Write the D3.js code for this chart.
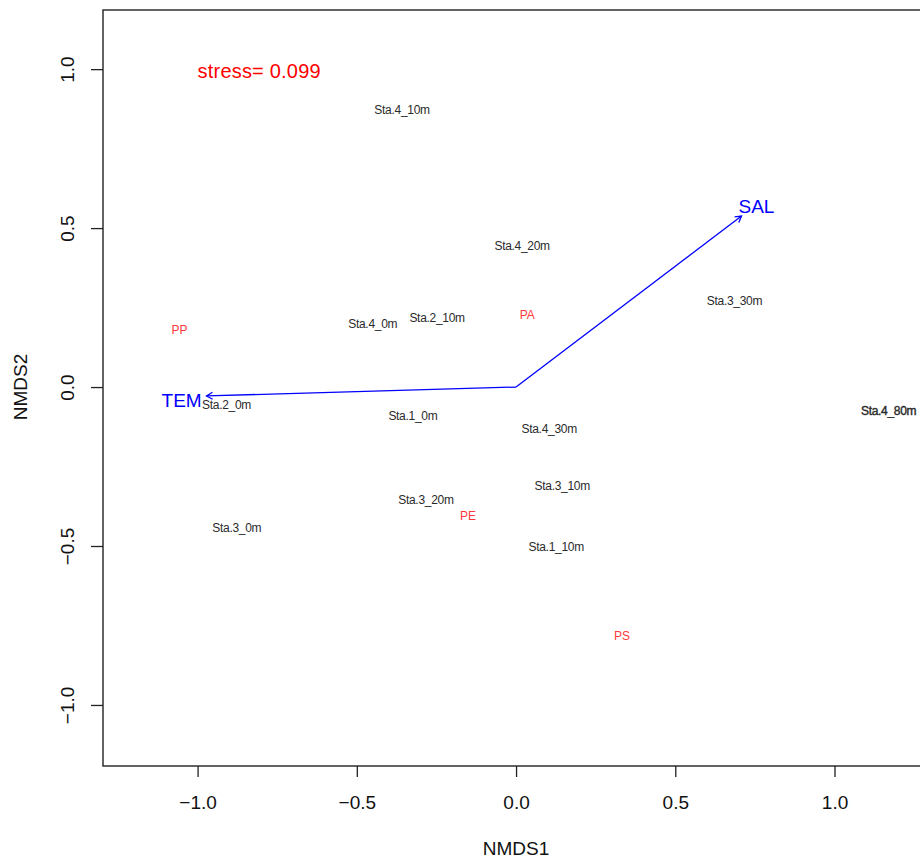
<!DOCTYPE html>
<html>
<head>
<meta charset="utf-8">
<script src="https://cdn.jsdelivr.net/npm/d3@7"></script>
<style>
  body { margin: 0; background: #fff; }
  svg { display: block; font-family: 'Liberation Sans', Arial, sans-serif; }
</style>
</head>
<body>
<div id="chart"></div>
<script>
// site scores (NMDS1, NMDS2)
var siteNames = ['Sta.4_10m', 'Sta.4_20m', 'Sta.3_30m', 'Sta.4_0m', 'Sta.2_10m', 'Sta.2_0m',
    'Sta.1_0m', 'Sta.4_30m', 'Sta.4_80m', 'Sta.3_10m', 'Sta.3_20m', 'Sta.3_0m', 'Sta.1_10m'];
var siteX = [-0.358, 0.019, 0.686, -0.450, -0.248, -0.909, -0.324, 0.104, 1.170, 0.145, -0.283, -0.877, 0.126];
var siteY = [0.871, 0.443, 0.270, 0.198, 0.217, -0.057, -0.091, -0.132, -0.075, -0.311, -0.355, -0.443, -0.503];

// species scores
var speciesNames = ['PP', 'PA', 'PE', 'PS'];
var speciesX = [-1.057, 0.035, -0.151, 0.333];
var speciesY = [0.179, 0.226, -0.406, -0.783];

// environmental vectors (arrow tips) and their label spots
var envNames = ['TEM', 'SAL'];
var envX = [-0.972, 0.708];
var envY = [-0.028, 0.538];
var envLabelX = [-1.05, 0.755];
var envLabelY = [-0.041, 0.569];

var ticks = [-1.0, -0.5, 0.0, 0.5, 1.0];
var stress = 0.099;

var width = 920,
    height = 860;

var plot = { left: 103, top: 10, bottom: 766 };

var x = d3.scaleLinear()
    .domain([-1.297, 1.35])
    .range([plot.left, 516 + 1.35 * 318.5]);

var y = d3.scaleLinear()
    .domain([-1.192, 1.186])
    .range([plot.bottom, plot.top]);

var svg = d3.select('#chart').append('svg')
    .attr('width', width)
    .attr('height', height);

// axes
var xAxis = svg.append('g')
    .attr('transform', 'translate(0,' + plot.bottom + ')')
    .call(d3.axisBottom(x).tickValues(ticks).tickSize(11).tickFormat(d3.format('.1f')));
xAxis.select('.domain').remove();
xAxis.selectAll('line').attr('stroke', '#222').attr('stroke-width', 1.3);
xAxis.selectAll('text')
    .attr('y', 43).attr('dy', null)
    .attr('fill', '#111')
    .style('font-size', '19px');

var yAxis = svg.append('g')
    .attr('transform', 'translate(' + plot.left + ',0)')
    .call(d3.axisLeft(y).tickValues(ticks).tickSize(12).tickFormat(d3.format('.1f')));
yAxis.select('.domain').remove();
yAxis.selectAll('line').attr('stroke', '#222').attr('stroke-width', 1.3);
yAxis.selectAll('text')
    .attr('x', null).attr('dy', null)
    .attr('text-anchor', 'middle')
    .attr('transform', 'translate(-29,0) rotate(-90)')
    .attr('fill', '#111')
    .style('font-size', '19px');

// frame
svg.append('rect')
    .attr('x', plot.left)
    .attr('y', plot.top)
    .attr('width', x.range()[1] - plot.left)
    .attr('height', plot.bottom - plot.top)
    .attr('fill', 'none')
    .attr('stroke', '#222')
    .attr('stroke-width', 1.4);

// axis titles
svg.append('text')
    .attr('x', x(0))
    .attr('y', 855)
    .attr('text-anchor', 'middle')
    .attr('fill', '#111')
    .style('font-size', '19px')
    .text('NMDS1');

svg.append('text')
    .attr('transform', 'translate(27,' + y(0) + ') rotate(-90)')
    .attr('text-anchor', 'middle')
    .attr('fill', '#111')
    .style('font-size', '19px')
    .text('NMDS2');

// stress
svg.append('text')
    .attr('x', x(-1.0))
    .attr('y', y(1.0))
    .attr('dy', '0.45em')
    .attr('fill', '#ff0000')
    .style('font-size', '20px')
    .style('letter-spacing', '0.2px')
    .text('stress= ' + stress.toFixed(3));

// site labels
svg.append('g').selectAll('text')
    .data(siteNames)
    .enter().append('text')
    .attr('x', function (d, i) { return x(siteX[i]); })
    .attr('y', function (d, i) { return y(siteY[i]); })
    .attr('dy', '0.35em')
    .attr('text-anchor', 'middle')
    .attr('fill', '#2a2a2a')
    .attr('stroke', function (d) { return d == 'Sta.4_80m' ? '#2a2a2a' : 'none'; })
    .attr('stroke-width', 0.4)
    .style('font-size', '12px')
    .style('letter-spacing', '-0.3px')
    .text(function (d) { return d; });

// species labels
svg.append('g').selectAll('text')
    .data(speciesNames)
    .enter().append('text')
    .attr('x', function (d, i) { return x(speciesX[i]); })
    .attr('y', function (d, i) { return y(speciesY[i]); })
    .attr('dy', '0.35em')
    .attr('text-anchor', 'middle')
    .attr('fill', '#ff3b3b')
    .style('font-size', '12px')
    .text(function (d) { return d; });

// env arrows
var arrows = svg.append('g')
    .attr('stroke', '#0000ff')
    .attr('stroke-width', 1.3)
    .attr('fill', 'none');

envNames.forEach(function (name, i) {
    var x0 = x(0), y0 = y(0), x1 = x(envX[i]), y1 = y(envY[i]);
    arrows.append('line')
        .attr('x1', x0).attr('y1', y0)
        .attr('x2', x1).attr('y2', y1);
    var ang = Math.atan2(y1 - y0, x1 - x0),
        len = 7,
        spread = Math.PI / 6;
    arrows.append('path')
        .attr('d', 'M' + (x1 - len * Math.cos(ang - spread)) + ',' + (y1 - len * Math.sin(ang - spread)) +
            'L' + x1 + ',' + y1 +
            'L' + (x1 - len * Math.cos(ang + spread)) + ',' + (y1 - len * Math.sin(ang + spread)));
});

svg.append('g').selectAll('text')
    .data(envNames)
    .enter().append('text')
    .attr('x', function (d, i) { return x(envLabelX[i]); })
    .attr('y', function (d, i) { return y(envLabelY[i]); })
    .attr('dy', '0.35em')
    .attr('text-anchor', 'middle')
    .attr('fill', '#0000ff')
    .style('font-size', '19px')
    .text(function (d) { return d; });
</script>
</body>
</html>
